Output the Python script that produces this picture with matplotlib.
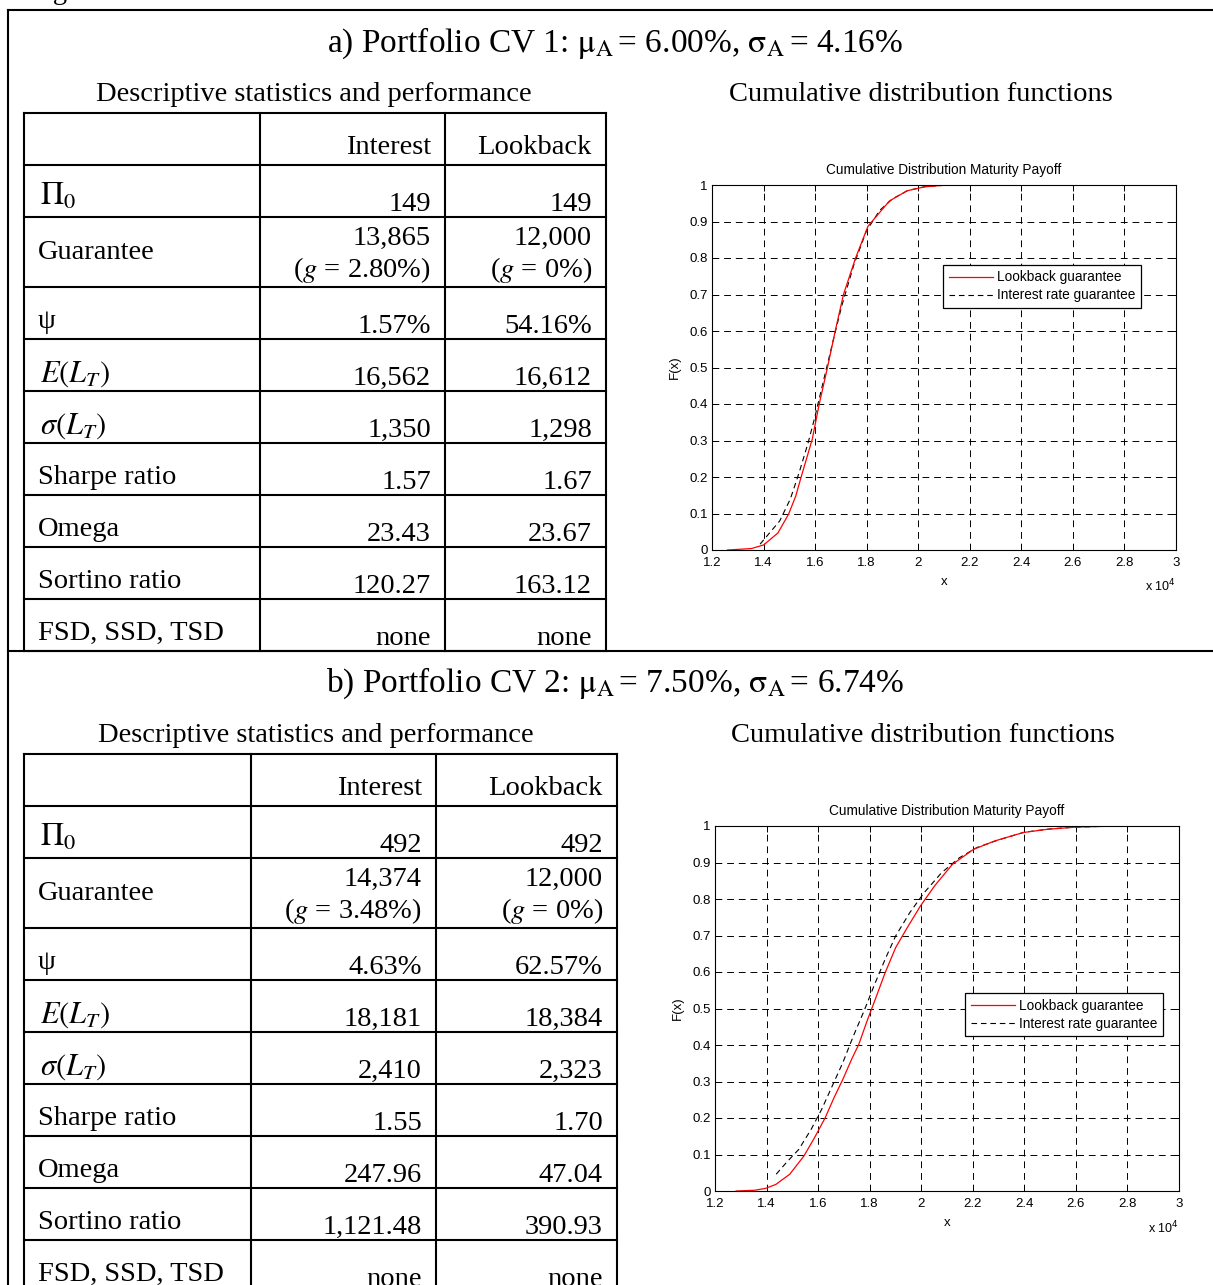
import matplotlib
matplotlib.use("Agg")
import matplotlib.pyplot as plt
from matplotlib.lines import Line2D
from matplotlib.ticker import FuncFormatter, MultipleLocator

W, H = 1213, 1285

# ---- table data ----
col_heads = ["Interest", "Lookback"]
row_labels = [r"$\Pi_0$", "Guarantee", "ψ", r"$E\left(L_T\right)$",
              r"$\sigma\left(L_T\right)$", "Sharpe ratio", "Omega",
              "Sortino ratio", "FSD, SSD, TSD"]

titles = [r"a) Portfolio CV 1: $\mathrm{\mu}_\mathrm{A}\,$= 6.00%, $\mathrm{\sigma}_\mathrm{A}\,$= 4.16%",
          r"b) Portfolio CV 2: $\mathrm{\mu}_\mathrm{A}\,$= 7.50%, $\mathrm{\sigma}_\mathrm{A}\,$= 6.74%"]

interest_a = ["149", ("13,865", r"($g$ = 2.80%)"), "1.57%", "16,562", "1,350",
              "1.57", "23.43", "120.27", "none"]
lookback_a = ["149", ("12,000", r"($g$ = 0%)"), "54.16%", "16,612", "1,298",
              "1.67", "23.67", "163.12", "none"]
interest_b = ["492", ("14,374", r"($g$ = 3.48%)"), "4.63%", "18,181", "2,410",
              "1.55", "247.96", "1,121.48", "none"]
lookback_b = ["492", ("12,000", r"($g$ = 0%)"), "62.57%", "18,384", "2,323",
              "1.70", "47.04", "390.93", "none"]

# ---- CDF curves (payoff, F(x)) ----
look_a_x = [12600, 13530, 14010, 14560, 14970, 15250, 15450, 15700, 15890, 16160,
            16480, 16780, 17100, 17570, 18050, 18880, 19560, 20250, 20930, 24200]
look_a_F = [0, 0.004, 0.014, 0.047, 0.098, 0.148, 0.198, 0.258, 0.304, 0.40,
            0.50, 0.60, 0.70, 0.80, 0.887, 0.956, 0.984, 0.995, 0.999, 1.0]
int_a_x = [13865, 14080, 14630, 15040, 15380, 15730, 16000, 16340, 16680, 17030,
           17510, 17990, 18500, 19000, 19600, 20300, 21000, 24200]
int_a_F = [0.016, 0.034, 0.08, 0.14, 0.212, 0.294, 0.367, 0.468, 0.568, 0.668,
           0.783, 0.874, 0.93, 0.962, 0.985, 0.996, 0.999, 1.0]

look_b_x = [12820, 13530, 13950, 14360, 14900, 15450, 15860, 16270, 16620, 16960,
            17300, 17580, 17920, 18190, 18600, 19010, 19420, 19970, 20520, 21210,
            22030, 22850, 23950, 24900, 26000, 27640, 30000]
look_b_F = [0, 0.002, 0.007, 0.018, 0.046, 0.096, 0.146, 0.2, 0.256, 0.306,
            0.361, 0.402, 0.47, 0.52, 0.598, 0.667, 0.717, 0.781, 0.836, 0.895,
            0.936, 0.959, 0.982, 0.991, 0.997, 1.0, 1.0]
int_b_x = [14374, 14770, 15250, 15730, 16140, 16550, 16960, 17370, 17780, 18190,
           18600, 19010, 19560, 20110, 20790, 21480, 22160, 23000, 24000, 25000,
           26000, 27500, 30000]
int_b_F = [0.046, 0.078, 0.114, 0.169, 0.224, 0.288, 0.352, 0.425, 0.493, 0.566,
           0.635, 0.699, 0.763, 0.817, 0.872, 0.913, 0.941, 0.962, 0.983, 0.992,
           0.997, 1.0, 1.0]

x_ticks = [12000, 14000, 16000, 18000, 20000, 22000, 24000, 26000, 28000, 30000]

plt.rcParams['font.family'] = ['Liberation Serif', 'DejaVu Serif']
plt.rcParams['mathtext.fontset'] = 'stix'

fig = plt.figure(figsize=(W / 100, H / 100), dpi=100)

def fx(x):
    return x / W

def fy(y):
    return 1 - y / H

def hline(y, x0, x1, lw=1.5):
    fig.add_artist(Line2D([fx(x0), fx(x1)], [fy(y), fy(y)], color='black', lw=lw,
                          solid_capstyle='projecting'))

def vline(x, y0, y1, lw=1.5):
    fig.add_artist(Line2D([fx(x), fx(x)], [fy(y0), fy(y1)], color='black', lw=lw,
                          solid_capstyle='projecting'))

def txt(x, y, s, size=20.5, ha='left', va='baseline'):
    fig.text(fx(x), fy(y), s, fontsize=size, ha=ha, va=va)

# outer frame
hline(10, 8, W)
vline(8, 10, H)
hline(651, 8, W)
txt(29, -1, "Figure 5")

def table(cols, rows, interest, lookback):
    for y in rows:
        hline(y, cols[0], cols[-1])
    for x in cols:
        vline(x, rows[0], rows[-1])
    txt(cols[2] - 14, rows[1] - 11, col_heads[0], ha='right')
    txt(cols[3] - 14, rows[1] - 11, col_heads[1], ha='right')
    for i, lab in enumerate(row_labels):
        top, bot = rows[i + 1], rows[i + 2]
        if i == 1:
            txt(38, (top + bot) / 2 + 7, lab)
        elif i in (3, 4):
            txt(40, bot - 9, lab, size=22)
        elif i == 0:
            txt(40, bot - 12, lab, size=23)
        else:
            txt(38, bot - 11, lab)
        for c, vals in ((cols[2], interest), (cols[3], lookback)):
            v = vals[i]
            if isinstance(v, tuple):
                txt(c - 14, top + 28, v[0], ha='right')
                txt(c - 14, bot - 10, v[1], ha='right')
            else:
                txt(c - 14, bot - 6, v, ha='right')

table([24, 260, 445, 606], [113, 165, 217, 287, 339, 391, 443, 495, 547, 599, 651],
      interest_a, lookback_a)
table([24, 251, 436, 617], [754, 806, 858, 928, 980, 1032, 1084, 1136, 1188, 1240, 1292],
      interest_b, lookback_b)

txt(615, 52, titles[0], size=24, ha='center')
txt(615, 692, titles[1], size=24, ha='center')
txt(314, 101, "Descriptive statistics and performance", size=20.5, ha='center')
txt(921, 101, "Cumulative distribution functions", size=20.5, ha='center')
txt(316, 742, "Descriptive statistics and performance", size=20.5, ha='center')
txt(923, 742, "Cumulative distribution functions", size=20.5, ha='center')

def cdf_axes(l, t, r, b, lx, lf, ix, iF, leg_anchor):
    ax = fig.add_axes([fx(l), fy(b), (r - l) / W, (b - t) / H])
    sans = 'Liberation Sans'
    li, = ax.plot(ix, iF, color='black', lw=0.8, ls=(0, (5, 3.5)))
    ll, = ax.plot(lx, lf, color='red', lw=0.9)
    ax.set_xlim(12000, 30000)
    ax.set_ylim(0, 1)
    ax.set_xticks(x_ticks)
    ax.yaxis.set_major_locator(MultipleLocator(0.1))
    ax.xaxis.set_major_formatter(FuncFormatter(lambda v, p: f"{v / 1e4:g}"))
    ax.yaxis.set_major_formatter(FuncFormatter(lambda v, p: f"{v:g}"))
    ax.grid(True, color='black', lw=0.7, ls=(0, (7, 5)))
    ax.tick_params(direction='in', top=True, right=True, length=4, width=0.7,
                   labelsize=9.5)
    ax.tick_params(axis='x', pad=5)
    ax.tick_params(axis='y', pad=3)
    for lab in ax.get_xticklabels() + ax.get_yticklabels():
        lab.set_family(sans)
    for s in ax.spines.values():
        s.set_linewidth(0.8)
    ax.set_title("Cumulative Distribution Maturity Payoff", fontsize=9.8,
                 family=sans, pad=8)
    ax.set_xlabel("x", fontsize=9.5, family=sans, labelpad=5)
    ax.set_ylabel("F(x)", fontsize=9.5, family=sans, labelpad=6)
    ax.text(0.966, -0.10, r"x 10$^{4}$", transform=ax.transAxes, fontsize=9,
            family=sans, math_fontfamily='dejavusans', ha='center', va='center')
    leg = ax.legend([ll, li], ["Lookback guarantee", "Interest rate guarantee"],
                    loc='upper left', bbox_to_anchor=leg_anchor, borderaxespad=0,
                    fancybox=False, edgecolor='black', framealpha=1,
                    prop={'family': sans, 'size': 9.8}, handlelength=3.3,
                    labelspacing=0.3, borderpad=0.4, handletextpad=0.25)
    leg.get_frame().set_linewidth(0.9)
    return ax

cdf_axes(712, 185, 1176, 550, look_a_x, look_a_F, int_a_x, int_a_F, (0.498, 0.781))
cdf_axes(715, 826, 1179, 1191, look_b_x, look_b_F, int_b_x, int_b_F, (0.539, 0.542))

fig.savefig("out.png", dpi=100)
